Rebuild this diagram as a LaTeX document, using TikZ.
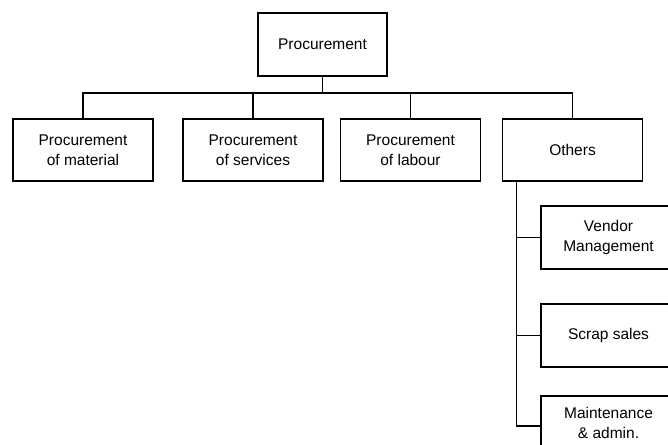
\documentclass[tikz,border=0pt]{standalone}
\usepackage{fontspec}
\setmainfont{Liberation Sans}
\begin{document}
\begin{tikzpicture}[x=1pt,y=-1pt,
  box/.style={draw=black, line width=1.4pt, fill=white, align=center, inner sep=0pt,
    font=\fontsize{15.5}{20.5}\selectfont},
  wide/.style={box, minimum width=140pt, minimum height=62pt},
  sub/.style={box, minimum width=135pt, minimum height=63pt},
  conn/.style={draw=black, line width=1.2pt}]
\useasboundingbox (0,0) rectangle (668,444);
\clip (0,0) rectangle (668,444);
\fill[white] (0,0) rectangle (668,444);
\node[box, minimum width=129pt, minimum height=63pt] (top) at (322.5,44.5) {Procurement};
\node[wide] (c1) at (83,150) {Procurement\\of material};
\node[wide] (c2) at (253,150) {Procurement\\of services};
\node[wide] (c3) at (410.5,150) {Procurement\\of labour};
\node[wide] (c4) at (572.5,150) {Others};
\node[sub] (s1) at (608.5,237.5) {Vendor\\Management};
\node[sub] (s2) at (608.5,335.5) {Scrap sales};
\node[sub, minimum height=54pt] (s3) at (608.5,423) {Maintenance\\\& admin.};
\coordinate (bar) at (0,93);
\draw[conn] (top.south) -- (top.south |- bar);
\draw[conn] (c1.north) -- (c1.north |- bar) -- (c4.north |- bar) -- (c4.north);
\draw[conn] (c2.north) -- (c2.north |- bar);
\draw[conn] (c3.north) -- (c3.north |- bar);
\coordinate (sp) at ([xshift=15pt]c4.south west);
\coordinate (s3in) at ([yshift=-3pt]s3.west);
\draw[conn] (sp) |- (s3in);
\draw[conn] (sp |- s1.west) -- (s1.west);
\draw[conn] (sp |- s2.west) -- (s2.west);
\end{tikzpicture}
\end{document}
